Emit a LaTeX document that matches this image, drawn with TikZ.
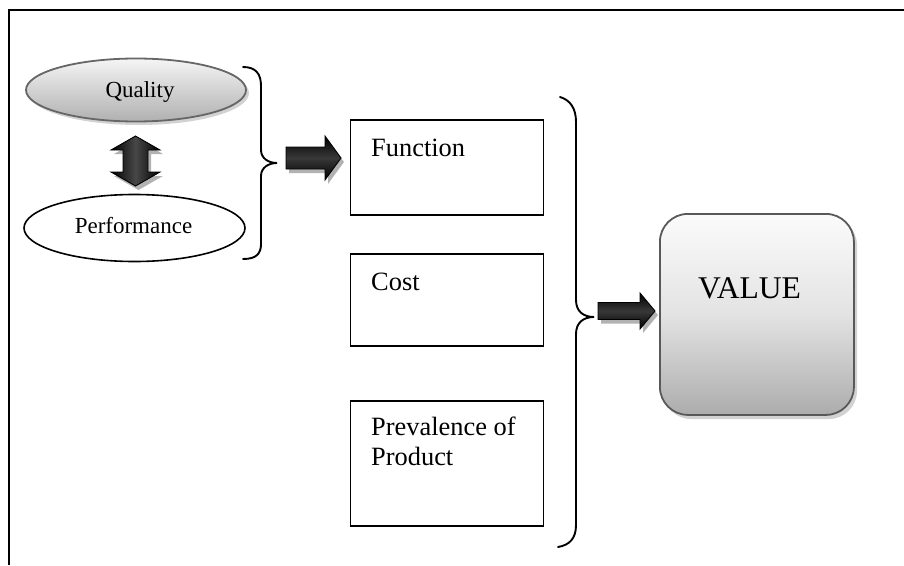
\documentclass[tikz,border=0pt]{standalone}
\usepackage{fontspec}
\setmainfont{Liberation Serif}
\usetikzlibrary{shapes.geometric}
\begin{document}
\begin{tikzpicture}[x=1pt,y=-1pt,
  frameline/.style={line width=2pt,black},
  brace/.style={line width=1.9pt,black,line cap=round},
  box/.style={draw=black,line width=1.8pt,rectangle,inner sep=0pt,anchor=north west,minimum width=193pt},
  lbl/.style={inner sep=0pt,font=\fontsize{26.4}{30}\selectfont,align=left},
  ovlbl/.style={inner sep=0pt,font=\fontsize{23}{26}\selectfont},
  blockarrow/.style={draw=black,line width=0.9pt,top color=black,bottom color=black,middle color=black!78},
  vblockarrow/.style={draw=black,line width=0.9pt,left color=black,right color=black,middle color=black!72},
  arrshadow/.style={fill=gray!60},
  softshadow/.style={fill=gray!35}
]
\useasboundingbox (0,0) rectangle (904,565);
% frame
\draw[frameline] (8,10) -- (904,10);
\draw[frameline] (9,10) -- (9,565);

% Quality ellipse
\fill[softshadow] (139,93) ellipse [x radius=110, y radius=32];
\node[ellipse,draw=gray!80!black,line width=1.8pt,top color=gray!8,bottom color=gray!62,
      minimum width=220pt,minimum height=63pt,inner sep=0pt] (qual) at (136,90) {};
\node[ovlbl,anchor=base] (qualt) at (140,97) {Quality};

% Performance ellipse
\node[ellipse,draw=black,line width=1.6pt,fill=white,
      minimum width=221pt,minimum height=67pt,inner sep=0pt] (perf) at (134.5,228) {};
\node[ovlbl,anchor=base] (perft) at (133.5,233) {Performance};

% double arrow
\fill[arrshadow,shift={(3,4)}] (135.5,136) -- (160,150) -- (148,150) -- (148,172) -- (160,172) -- (135.5,186) -- (111,172) -- (123,172) -- (123,150) -- (111,150) -- cycle;
\path[vblockarrow] (135.5,136) -- (160,150) -- (148,150) -- (148,172) -- (160,172) -- (135.5,186) -- (111,172) -- (123,172) -- (123,150) -- (111,150) -- cycle;

% small brace
\draw[brace] (243,67) .. controls (256,67) and (261,74) .. (261,86) -- (261,150)
  .. controls (261,158) and (268,163) .. (277,163)
  .. controls (268,163) and (261,168) .. (261,176) -- (261,244)
  .. controls (261,254) and (256,259) .. (243,259);

% arrow 1
\fill[arrshadow,shift={(3,4)}] (286,147) -- (325,147) -- (325,136) -- (341,158) -- (325,180) -- (325,169) -- (286,169) -- cycle;
\path[blockarrow] (286,147) -- (325,147) -- (325,136) -- (341,158) -- (325,180) -- (325,169) -- (286,169) -- cycle;

% boxes
\node[box,minimum height=95pt] (func) at (349.5,119) {};
\node[lbl,anchor=base west] (funct) at (371,156) {Function};
\node[box,minimum height=92pt] (cost) at (349.5,253) {};
\node[lbl,anchor=base west] (costt) at (371,290) {Cost};
\node[box,minimum height=125pt] (prev) at (349.5,400) {};
\node[lbl,anchor=base west] (prevt) at (371,465) {Prevalence of\\Product};

% big brace
\draw[brace] (560,97) .. controls (570,100) and (576,108) .. (576,122) -- (576,300)
  .. controls (576,311) and (583,317) .. (594,317)
  .. controls (583,317) and (576,323) .. (576,334) -- (576,525)
  .. controls (576,538) and (570,545) .. (558,547);

% arrow 2
\fill[arrshadow,shift={(3,4)}] (598,302.5) -- (640,302.5) -- (640,293) -- (655,311) -- (640,329) -- (640,319.5) -- (598,319.5) -- cycle;
\path[blockarrow] (598,302.5) -- (640,302.5) -- (640,293) -- (655,311) -- (640,329) -- (640,319.5) -- (598,319.5) -- cycle;

% VALUE box
\fill[softshadow,rounded corners=28pt] (663,217) rectangle (857,419);
\node[rectangle,rounded corners=28pt,draw=gray!70!black,line width=1.8pt,
      top color=gray!3,bottom color=gray!65,middle color=gray!22,
      minimum width=194pt,minimum height=201pt,inner sep=0pt,anchor=north west] (value) at (659,213) {};
\node[inner sep=0pt,font=\fontsize{31.6}{36}\selectfont,anchor=base] (valuet) at (749.5,298) {VALUE};
\end{tikzpicture}
\end{document}
